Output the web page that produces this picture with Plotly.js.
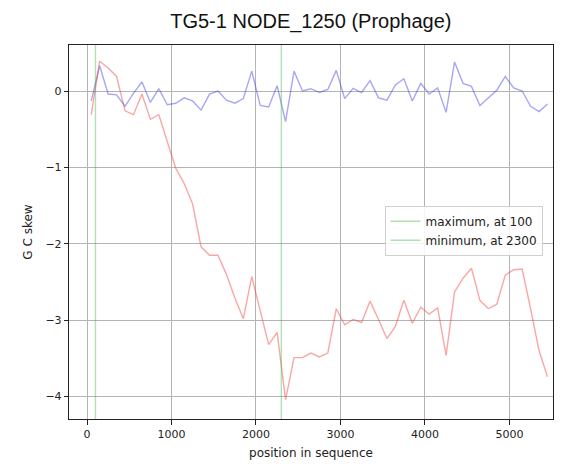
<!DOCTYPE html>
<html><head><meta charset="utf-8">
<script src="https://cdn.plot.ly/plotly-3.0.1.min.js"></script>
<style>html,body{margin:0;padding:0;background:#fff}#chart{width:573px;height:467px}</style>
</head><body><div id="chart"></div>
<script>
// window positions (centres) along the sequence
const positions = [50,150,250,350,450,550,650,750,850,950,1050,1150,1250,1350,1450,1550,1650,1750,1850,1950,
  2050,2150,2250,2350,2450,2550,2650,2750,2850,2950,3050,3150,3250,3350,3450,3550,3650,3750,3850,3950,
  4050,4150,4250,4350,4450,4550,4650,4750,4850,4950,5050,5150,5250,5350,5450];
// GC skew per window (blue)
const gcSkew = [-0.13,0.33,-0.04,-0.05,-0.20,-0.03,0.12,-0.15,0.03,-0.18,
  -0.16,-0.09,-0.13,-0.25,-0.04,0.00,-0.12,-0.16,-0.10,0.26,
  -0.19,-0.21,0.07,-0.40,0.26,0.00,0.03,-0.02,0.02,0.27,
  -0.10,0.035,-0.02,0.135,-0.09,-0.12,0.08,0.16,-0.13,0.10,
  -0.04,0.04,-0.28,0.38,0.10,0.06,-0.19,-0.09,0.01,0.19,
  0.04,0.00,-0.20,-0.27,-0.17];
// cumulative GC skew (red)
const cumSkew = [-0.31,0.39,0.30,0.19,-0.26,-0.31,-0.04,-0.37,-0.31,-0.65,
  -1.01,-1.21,-1.48,-2.04,-2.15,-2.15,-2.40,-2.71,-2.98,-2.43,
  -2.87,-3.32,-3.16,-4.04,-3.49,-3.49,-3.43,-3.48,-3.43,-2.85,
  -3.06,-2.99,-3.03,-2.75,-2.99,-3.24,-3.08,-2.74,-3.04,-2.83,
  -2.92,-2.84,-3.46,-2.63,-2.45,-2.32,-2.74,-2.85,-2.79,-2.41,
  -2.34,-2.33,-2.85,-3.40,-3.74];
const maxPos = 100;
const minPos = 2300;
const legendLabels = ['maximum, at ' + maxPos, 'minimum, at ' + minPos];
const titleText = 'TG5-1 NODE_1250 (Prophage)';
const spanY = [0, 1]; // full height of the overlay axis

const traces = [
  {x: [maxPos, maxPos], y: spanY, yaxis: 'y2', type: 'scatter', mode: 'lines',
   line: {color: 'rgba(60,180,60,0.4)', width: 1.4}, name: legendLabels[0], hoverinfo: 'skip'},
  {x: [minPos, minPos], y: spanY, yaxis: 'y2', type: 'scatter', mode: 'lines',
   line: {color: 'rgba(60,180,60,0.4)', width: 1.4}, name: legendLabels[1], hoverinfo: 'skip'},
  {x: positions, y: gcSkew, type: 'scatter', mode: 'lines',
   line: {color: 'rgba(60,60,230,0.45)', width: 1.4}, showlegend: false, hoverinfo: 'skip'},
  {x: positions, y: cumSkew, type: 'scatter', mode: 'lines',
   line: {color: 'rgba(240,60,60,0.45)', width: 1.4}, showlegend: false, hoverinfo: 'skip'}
];

const layout = {
  width: 573, height: 467,
  margin: {l: 69, r: 20, t: 45, b: 48},
  paper_bgcolor: '#fff', plot_bgcolor: '#fff',
  font: {family: 'DejaVu Sans, sans-serif', size: 11, color: '#222'},
  title: {text: titleText, x: 0.5425, xanchor: 'center', y: 0.955, yanchor: 'middle',
          font: {family: 'Liberation Sans, Arial, sans-serif', size: 20, color: '#111'}},
  xaxis: {range: [-213, 5515], tickvals: [0,1000,2000,3000,4000,5000],
          showgrid: true, gridcolor: '#b4b4b4', gridwidth: 1, zeroline: false,
          showline: true, linecolor: '#222', linewidth: 1.2, mirror: true,
          ticks: 'outside', ticklen: 5, tickcolor: '#222',
          title: {text: 'position in sequence', standoff: 8, font: {size: 12}}},
  yaxis: {range: [-4.293, 0.602], tickvals: [0,-1,-2,-3,-4],
          showgrid: true, gridcolor: '#b4b4b4', gridwidth: 1, zeroline: false,
          showline: true, linecolor: '#222', linewidth: 1.2, mirror: true,
          ticks: 'outside', ticklen: 4, tickcolor: '#222',
          title: {text: 'G C skew', standoff: 10, font: {size: 12}}},
  yaxis2: {overlaying: 'y', range: [0, 1], visible: false, showgrid: false, zeroline: false, fixedrange: true},
  legend: {x: 0.652, y: 0.57, xanchor: 'left', yanchor: 'top',
           bgcolor: 'rgba(255,255,255,0.85)', bordercolor: '#d0d0d0', borderwidth: 1,
           font: {size: 12, color: '#222'}, tracegroupgap: 0}
};
Plotly.newPlot('chart', traces, layout, {staticPlot: true, displayModeBar: false});
</script></body></html>
